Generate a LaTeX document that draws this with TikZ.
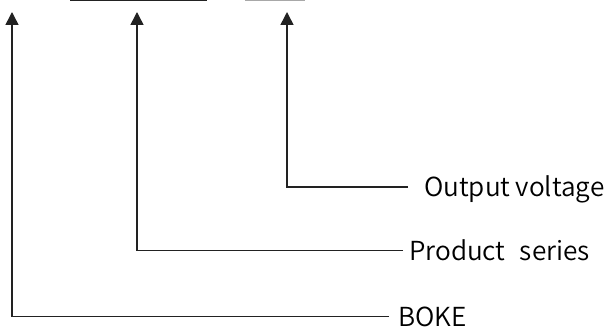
\documentclass[tikz,border=0pt]{standalone}
\usepackage{fontspec}
\newfontfamily\cjksans{Noto Sans CJK SC DemiLight}
\usetikzlibrary{arrows.meta}
\definecolor{linedark}{HTML}{222222}
\definecolor{toplight}{HTML}{A8A8A8}
\begin{document}
\begin{tikzpicture}[x=1pt,y=1pt,
  lbl/.style={anchor=base west,inner sep=0pt,text height=20pt,text depth=0pt,
    font=\cjksans\fontsize{26.2}{27}\selectfont,text=black},
  pointer/.style={line width=1.5pt,draw=linedark,
    -{Triangle[width=13pt,length=13pt]}},
]
\useasboundingbox (0,0) rectangle (609,329);
% top bars
\coordinate (d1) at (70,328.5);
\coordinate (d2) at (207,328.5);
\coordinate (g1) at (245,328.5);
\coordinate (g2) at (305,328.5);
\draw[line width=2pt,draw=linedark] (d1) -- (d2);
\draw[line width=2pt,draw=toplight] (g1) -- (g2);
% arrow tips
\coordinate (tip1) at (12,317);
\coordinate (tip2) at (137,317);
\coordinate (tip3) at (287,317);
% labels
\node[lbl] (outv) at (424,132) {Output\hspace{0.2em}voltage};
\node[lbl] (prod) at (409,68.5) {Product\hspace{0.55em}series};
\node[lbl] (boke) at (398,2.5) {BOKE};
% connectors
\draw[pointer] ([xshift=-16pt]outv.west) -| (tip3);
\draw[pointer] ([xshift=-6pt]prod.west) -| (tip2);
\draw[pointer] ([xshift=-9pt]boke.west) -| (tip1);
\end{tikzpicture}
\end{document}
